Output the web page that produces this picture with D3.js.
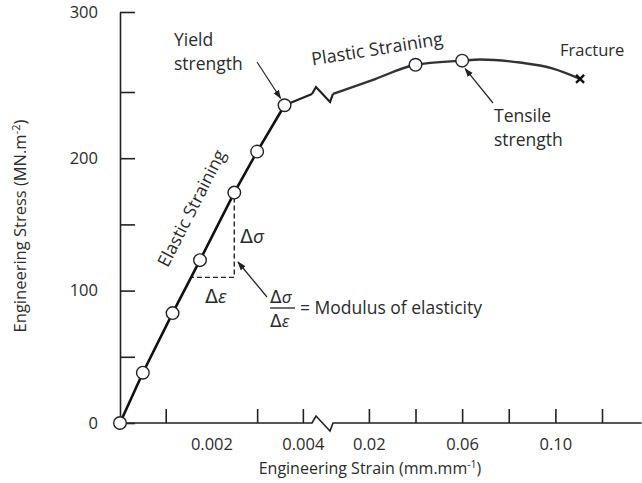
<!DOCTYPE html>
<html>
<head>
<meta charset="utf-8">
<script src="https://cdn.jsdelivr.net/npm/d3@7"></script>
<style>
  body { margin: 0; background: #fff; }
  text { font-family: "Open Sans", sans-serif; fill: #2b2b2b; }
</style>
</head>
<body>
<div id="chart"></div>
<script>
// ===== Config =====
const WIDTH = 642, HEIGHT = 483;

// ===== Data =====
// elastic region, strain in mm/mm, stress in MN/m^2
const elasticStrain = [0, 0.0005, 0.00115, 0.00175, 0.0025, 0.003, 0.0036];
const elasticStress = [0, 38, 83, 123, 174, 205, 240];
// short run from yield point to the axis break
const breakStrain = [0.0036, 0.0042];
const breakStress = [240, 248.5];
// plastic region (after the break)
const plasticStrain = [0.0046, 0.0218, 0.04, 0.06, 0.0677, 0.0848, 0.099, 0.1106];
const plasticStress = [248.5, 257.6, 267, 269.6, 270.3, 268.4, 264.6, 258.2];
// open circle markers on the plastic part
const plasticMarkStrain = [0.04, 0.06];
const plasticMarkStress = [267, 269.6];
const fracture = { strain: 0.1106, stress: 258.2 };

// axis ticks
const xTicks = [0.001, 0.003, 0.004, 0.02, 0.04, 0.06, 0.08, 0.10, 0.12];
const xLabels = [0.002, 0.004, 0.02, 0.06, 0.10];
const xLabelText = ["0.002", "0.004", "0.02", "0.06", "0.10"];
const yTicks = [0, 50, 100, 150, 200, 250, 300];
const yLabels = [0, 100, 200, 300];

// slope triangle (delta sigma / delta epsilon)
const triTop = { strain: 0.0025, stress: 174 };
const triBottomStress = 110;

// ===== Scales =====
// broken strain axis: elastic part, break gap, plastic part
const x = d3.scaleLinear()
  .domain([0, 0.0042, 0.0046, 0.12])
  .range([120, 312, 333, 602]);
const y = d3.scaleLinear()
  .domain([0, 250, 300])
  .range([423, 92, 12]);

const svg = d3.select("#chart").append("svg")
  .attr("width", WIDTH).attr("height", HEIGHT);

const defs = svg.append("defs");
defs.append("marker").attr("id", "arr")
  .attr("viewBox", "0 0 10 10").attr("refX", 9).attr("refY", 5)
  .attr("markerWidth", 9).attr("markerHeight", 9)
  .attr("markerUnits", "userSpaceOnUse")
  .attr("orient", "auto")
  .append("path").attr("d", "M0,1.5 L10,5 L0,8.5 Z").attr("fill", "#222");

// zigzag break symbol
function breakPath(x0, x1, yb){
  return d3.line()([[x0, yb], [x0 + 4, yb - 7], [x1 - 3, yb + 8], [x1, yb]]);
}

// ===== Axes =====
const y0 = y(0);
const xEnd = x(0.137);

// x axis line with the break
svg.append("path")
  .attr("d", `M${x(0)},${y0}L${x(0.0042)},${y0}` + breakPath(x(0.0042), x(0.0046), y0).replace(/^M/, "L") + `L${xEnd},${y0}`)
  .attr("fill", "none").attr("stroke", "#222").attr("stroke-width", 1.6);

const xAxisG = svg.append("g").attr("transform", `translate(0,${y0})`)
  .call(d3.axisBottom(x).tickValues(xTicks).tickSizeInner(-14).tickSizeOuter(0).tickFormat(""));
xAxisG.select(".domain").remove();
xAxisG.selectAll("line").attr("stroke", "#222").attr("stroke-width", 1.6);

const xLabG = svg.append("g").attr("transform", `translate(0,${y0})`)
  .call(d3.axisBottom(x).tickValues(xLabels).tickSize(0).tickPadding(15)
    .tickFormat((d, i) => xLabelText[i]));
xLabG.select(".domain").remove();
xLabG.selectAll("text").attr("font-size", 16.5).attr("font-family", "Open Sans").attr("fill", "#2b2b2b");

const yAxisG = svg.append("g").attr("transform", `translate(120,0)`)
  .call(d3.axisLeft(y).tickValues(yTicks).tickSizeInner(-15).tickSizeOuter(0).tickPadding(22)
    .tickFormat(d => yLabels.includes(d) ? d : ""));
yAxisG.select(".domain").attr("stroke", "#222").attr("stroke-width", 1.6);
yAxisG.selectAll("line").attr("stroke", "#222").attr("stroke-width", 1.6);
yAxisG.selectAll("text").attr("font-size", 16.5).attr("font-family", "Open Sans").attr("fill", "#2b2b2b");

// axis titles
const xt = svg.append("text").attr("x", 370).attr("y", 474)
  .attr("text-anchor", "middle").attr("font-size", 16).text("Engineering Strain (mm.mm");
xt.append("tspan").attr("font-size", 10.5).attr("dy", -6).text("-1");
xt.append("tspan").attr("dy", 6).text(")");

const yt = svg.append("text").attr("transform", "translate(26,226) rotate(-90)")
  .attr("text-anchor", "middle").attr("font-size", 16.5).text("Engineering Stress (MN.m");
yt.append("tspan").attr("font-size", 11).attr("dy", -6).text("-2");
yt.append("tspan").attr("dy", 6).text(")");

// ===== Slope triangle =====
const triX = x(triTop.strain), triYt = y(triTop.stress), triYb = y(triBottomStress);
// strain where elastic line crosses the bottom of the triangle
const bottomStrain = d3.scaleLinear().domain([83, 123]).range([0.00115, 0.00175])(triBottomStress);
svg.append("path")
  .attr("d", `M${triX},${triYt + 5}L${triX},${triYb}L${x(bottomStrain)},${triYb}`)
  .attr("fill", "none").attr("stroke", "#222").attr("stroke-width", 1.4)
  .attr("stroke-dasharray", "5,3");

// ===== Curve =====
const lineGen = d3.line().x(d => x(d[0])).y(d => y(d[1]));
svg.append("path")
  .datum(elasticStrain.map((s, i) => [s, elasticStress[i]]))
  .attr("d", lineGen)
  .attr("fill", "none").attr("stroke", "#111").attr("stroke-width", 2.6);
svg.append("path")
  .datum(breakStrain.map((s, i) => [s, breakStress[i]]))
  .attr("d", lineGen)
  .attr("fill", "none").attr("stroke", "#222").attr("stroke-width", 2.4);
svg.append("path")
  .attr("d", breakPath(x(0.0042), x(0.0046), y(248.5)))
  .attr("fill", "none").attr("stroke", "#222").attr("stroke-width", 2.2);
svg.append("path")
  .datum(plasticStrain.map((s, i) => [s, plasticStress[i]]))
  .attr("d", d3.line().curve(d3.curveMonotoneX).x(d => x(d[0])).y(d => y(d[1])))
  .attr("fill", "none").attr("stroke", "#333").attr("stroke-width", 2.4);

// markers
const marks = elasticStrain.map((s, i) => [s, elasticStress[i]])
  .concat(plasticMarkStrain.map((s, i) => [s, plasticMarkStress[i]]));
svg.selectAll("circle.pt").data(marks).join("circle").attr("class", "pt")
  .attr("cx", d => x(d[0])).attr("cy", d => y(d[1])).attr("r", 6.3)
  .attr("fill", "#fff").attr("stroke", "#222").attr("stroke-width", 1.4);

// fracture cross
const fx = x(fracture.strain), fy = y(fracture.stress);
svg.append("path")
  .attr("d", `M${fx - 4},${fy - 4}L${fx + 4},${fy + 4}M${fx - 4},${fy + 4}L${fx + 4},${fy - 4}`)
  .attr("stroke", "#111").attr("stroke-width", 2.4);

// ===== Annotations =====
function label(xp, yp, lines, size){
  const t = svg.append("text").attr("x", xp).attr("y", yp).attr("font-size", size || 17.5);
  lines.forEach((l, i) => t.append("tspan").attr("x", xp).attr("dy", i ? 24 : 0).text(l));
  return t;
}
label(174, 46, ["Yield", "strength"]);
label(494, 122, ["Tensile", "strength"]);
label(560, 56, ["Fracture"], 16.5);

function arrow(x1, y1, x2, y2){
  svg.append("line").attr("x1", x1).attr("y1", y1).attr("x2", x2).attr("y2", y2)
    .attr("stroke", "#222").attr("stroke-width", 1.2).attr("marker-end", "url(#arr)");
}
arrow(257, 62, x(0.0036) - 4, y(240) - 7);
arrow(493, 103, x(0.06) + 3, y(269.6) + 8);
arrow(267, 297, 238, 262);

svg.append("text").attr("font-size", 17.5)
  .attr("transform", "translate(197,211) rotate(-63)")
  .attr("text-anchor", "middle").text("Elastic Straining");
svg.append("text").attr("font-size", 18)
  .attr("transform", "translate(378,55) rotate(-9)")
  .attr("text-anchor", "middle").text("Plastic Straining");

// delta labels
function delta(xp, yp, sym, size){
  const t = svg.append("text").attr("x", xp).attr("y", yp).attr("font-size", size)
    .attr("font-family", "DejaVu Serif");
  t.append("tspan").attr("font-family", "DejaVu Sans").text("Δ");
  t.append("tspan").attr("font-style", "italic").text(sym);
  return t;
}
delta(240, 243, "σ", 19);
delta(205, 303, "ε", 19);
delta(270, 303, "σ", 17);
delta(270, 327, "ε", 17);
svg.append("line").attr("x1", 270).attr("x2", 295).attr("y1", 308).attr("y2", 308)
  .attr("stroke", "#222").attr("stroke-width", 1.3);
svg.append("text").attr("x", 300).attr("y", 314).attr("font-size", 17.5).text("= Modulus of elasticity");
</script>
</body>
</html>
